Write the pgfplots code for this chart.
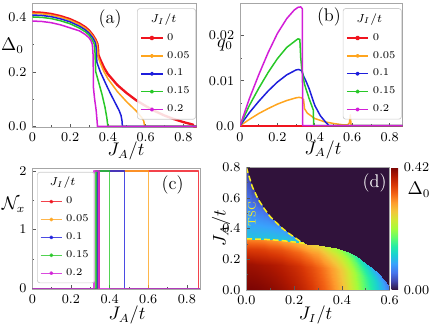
\documentclass[border=0pt]{standalone}
\usepackage{pgfplots}
\pgfplotsset{compat=1.18}
\definecolor{cR}{HTML}{F0141E}
\definecolor{cO}{HTML}{FFA51E}
\definecolor{cB}{HTML}{1E1EDC}
\definecolor{cG}{HTML}{28C828}
\definecolor{cM}{HTML}{D21ED7}
\definecolor{tz0}{RGB}{48,18,59}
\definecolor{tsc}{HTML}{F8F020}
\tikzset{lab/.style={font=\fontsize{10.5}{12}\selectfont}}
\pgfplotsset{
  colormap={turbo}{rgb255=(48,18,59) rgb255=(65,69,171) rgb255=(70,117,237)
    rgb255=(57,162,252) rgb255=(27,207,212) rgb255=(36,236,166) rgb255=(97,252,108)
    rgb255=(164,252,59) rgb255=(209,232,52) rgb255=(243,198,58) rgb255=(254,155,45)
    rgb255=(243,99,21) rgb255=(217,56,6) rgb255=(177,25,1) rgb255=(122,4,3)},
  base/.style={
    scale only axis, tick pos=left, tick align=inside,
    axis line style={black!35},
    major tick style={black!65, line width=0.4pt},
    minor tick style={black!65, line width=0.3pt},
    major tick length=2.2pt, minor tick length=1.3pt,
    tick label style={font=\fontsize{8}{9}\selectfont},
  },
  lines/.style={
    base, xmin=0, xmax=0.87, xtick={0,0.2,0.4,0.6,0.8}, minor x tick num=1,
    every axis plot/.append style={line width=0.9pt, line join=round},
    legend style={draw=black!20, rounded corners=1.5pt, fill=white,
      fill opacity=0.85, text opacity=1, font=\fontsize{6.2}{7}\selectfont,
      inner xsep=1.5pt, inner ysep=1pt, row sep=1.1pt, cells={anchor=west}},
    legend image code/.code={\draw[##1] (0pt,0pt) -- (13pt,0pt);
      \fill[##1] (6.5pt,0pt) circle (0.8pt);},
  },
}
\newcommand{\ltitle}{\addlegendimage{empty legend}
  \addlegendentry{\hspace{-10pt}\fontsize{7.2}{8}\selectfont$J_I/t$}}

\begin{document}
\begin{tikzpicture}
\useasboundingbox (0pt,0pt) rectangle (257.4pt,197.4pt);

% (a) gap parameter
\begin{axis}[lines, at={(19.38pt,195.42pt)}, anchor=north west,
    width=98.6pt, height=74.4pt, ymin=-0.003, ymax=0.451,
    ytick={0,0.2,0.4}, yticklabels={0.0,0.2,0.4}, minor y tick num=1,
    legend style={at={(0.996,0.96)}, anchor=north east}]
\ltitle
\addplot[cR, line width=1.4pt] coordinates {(0,0.418) (0.05,0.4165) (0.1,0.412) (0.15,0.404) (0.2,0.393) (0.25,0.377) (0.28,0.364) (0.3,0.352) (0.32,0.335) (0.335,0.318) (0.345,0.302) (0.348,0.285) (0.35,0.262) (0.36,0.245) (0.38,0.215) (0.4,0.192) (0.45,0.152) (0.5,0.122) (0.55,0.096) (0.6,0.075) (0.65,0.056) (0.7,0.04) (0.75,0.027) (0.8,0.016) (0.85,0.007) (0.855,0) (0.87,0)};
\addlegendentry{0}
\addplot[cO] coordinates {(0,0.414) (0.05,0.4125) (0.1,0.408) (0.15,0.4) (0.2,0.389) (0.25,0.373) (0.28,0.36) (0.3,0.348) (0.32,0.331) (0.335,0.314) (0.343,0.3) (0.346,0.28) (0.348,0.255) (0.36,0.232) (0.38,0.2) (0.4,0.175) (0.45,0.128) (0.5,0.09) (0.55,0.057) (0.58,0.032) (0.59,0.02) (0.595,0) (0.87,0)};
\addlegendentry{0.05}
\addplot[cB] coordinates {(0,0.408) (0.05,0.4065) (0.1,0.402) (0.15,0.394) (0.2,0.383) (0.25,0.367) (0.28,0.354) (0.3,0.342) (0.32,0.325) (0.333,0.308) (0.338,0.29) (0.34,0.26) (0.342,0.235) (0.36,0.2) (0.38,0.17) (0.4,0.14) (0.42,0.112) (0.44,0.085) (0.46,0.058) (0.47,0.04) (0.475,0.02) (0.477,0) (0.87,0)};
\addlegendentry{0.1}
\addplot[cG] coordinates {(0,0.401) (0.05,0.3995) (0.1,0.395) (0.15,0.387) (0.2,0.376) (0.25,0.36) (0.28,0.347) (0.3,0.335) (0.315,0.32) (0.328,0.302) (0.332,0.27) (0.334,0.23) (0.336,0.2) (0.35,0.165) (0.37,0.115) (0.385,0.07) (0.395,0.03) (0.4,0) (0.87,0)};
\addlegendentry{0.15}
\addplot[cM] coordinates {(0,0.386) (0.05,0.3845) (0.1,0.38) (0.15,0.372) (0.2,0.361) (0.25,0.35) (0.28,0.337) (0.3,0.325) (0.31,0.315) (0.318,0.3) (0.322,0.26) (0.323,0.2) (0.324,0.14) (0.33,0.1) (0.338,0.06) (0.343,0.02) (0.345,0) (0.87,0)};
\addlegendentry{0.2}
\node[font=\fontsize{11}{12}\selectfont] at (axis description cs:0.473,0.873) {(a)};
\end{axis}

% (b) pairing momentum
\begin{axis}[lines, at={(144pt,195.42pt)}, anchor=north west,
    width=97.6pt, height=74.0pt, ymin=-0.0002, ymax=0.0272,
    ytick={0,0.01,0.02}, yticklabels={0.0,0.01,0.02}, minor y tick num=1,
    scaled y ticks=false,
    legend style={at={(0.994,0.96)}, anchor=north east}]
\ltitle
\addplot[cR, line width=1.4pt] coordinates {(0,0) (0.87,0)};
\addlegendentry{0}
\addplot[cO] coordinates {(0,0) (0.05,0.0014) (0.1,0.0027) (0.15,0.0038) (0.2,0.0048) (0.25,0.0056) (0.3,0.0062) (0.315,0.0063) (0.33,0.0062) (0.34,0.0058) (0.345,0.0038) (0.36,0.0028) (0.4,0.0016) (0.45,0.0009) (0.5,0.0005) (0.55,0.0002) (0.575,0.0002) (0.585,0.0006) (0.59,0.0024) (0.593,0.0006) (0.595,0) (0.87,0)};
\addlegendentry{0.05}
\addplot[cB] coordinates {(0,0) (0.05,0.0029) (0.1,0.0054) (0.15,0.0077) (0.2,0.0097) (0.25,0.0113) (0.3,0.0124) (0.315,0.0125) (0.33,0.0122) (0.34,0.011) (0.35,0.0102) (0.37,0.0082) (0.4,0.0045) (0.43,0.0022) (0.46,0.0007) (0.47,0.0003) (0.475,0) (0.87,0)};
\addlegendentry{0.1}
\addplot[cG] coordinates {(0,0) (0.05,0.0045) (0.1,0.0083) (0.15,0.0118) (0.2,0.0149) (0.25,0.0174) (0.3,0.019) (0.31,0.0193) (0.32,0.0192) (0.325,0.015) (0.33,0.0128) (0.345,0.0092) (0.37,0.006) (0.392,0.0035) (0.394,0) (0.87,0)};
\addlegendentry{0.15}
\addplot[cM] coordinates {(0,0) (0.05,0.006) (0.1,0.0113) (0.15,0.0162) (0.2,0.0205) (0.25,0.0238) (0.29,0.0257) (0.31,0.0263) (0.325,0.0264) (0.333,0.026) (0.335,0) (0.87,0)};
\addlegendentry{0.2}
\node[font=\fontsize{11}{12}\selectfont] at (axis description cs:0.547,0.89) {(b)};
\end{axis}

% (c) number of nodes
\begin{axis}[lines, at={(19.38pt,96.42pt)}, anchor=north west,
    width=100.9pt, height=72.4pt, ymin=-0.01, ymax=2.046,
    ytick={0,1,2}, minor y tick num=1,
    every axis plot/.append style={line width=0.8pt, opacity=0.8},
    legend style={at={(0.028,0.97)}, anchor=north west}]
\ltitle
\addplot[cR] coordinates {(0,0) (0.345,0) (0.345,2) (0.86,2) (0.86,0) (0.87,0)};
\addlegendentry{0}
\addplot[cO] coordinates {(0,0) (0.34,0) (0.34,2) (0.6,2) (0.6,0) (0.87,0)};
\addlegendentry{0.05}
\addplot[cB] coordinates {(0,0) (0.335,0) (0.335,2) (0.477,2) (0.477,0) (0.87,0)};
\addlegendentry{0.1}
\addplot[cG] coordinates {(0,0) (0.33,0) (0.33,2) (0.4,2) (0.4,0) (0.87,0)};
\addlegendentry{0.15}
\addplot[cM] coordinates {(0,0) (0.32,0) (0.32,2) (0.345,2) (0.345,0) (0.87,0)};
\addlegendentry{0.2}
\node[font=\fontsize{11}{12}\selectfont] at (axis description cs:0.834,0.86) {(c)};
\end{axis}

% (d) phase diagram
\begin{axis}[base, at={(147.78pt,97.02pt)}, anchor=north west,
    width=86pt, height=73.6pt, view={0}{90}, axis on top,
    xmin=0, xmax=0.6, ymin=0, ymax=0.8, zmin=-1, zmax=1, ztick=\empty,
    xtick={0,0.2,0.4,0.6}, xticklabels={0.0,0.2,0.4,0.6},
    ytick={0,0.2,0.4,0.6,0.8}, yticklabels={0.0,0.2,0.4,0.6,0.8},
    minor x tick num=1, minor y tick num=1,
    axis background/.style={fill=tz0},
    colormap name=turbo, point meta min=0, point meta max=0.42,
    colorbar, colorbar style={at={(parent axis.north east)}, anchor=north west,
      xshift=-7.4pt, width=3.9pt, ytick={0,0.42}, yticklabels={0.00,0.42},
      yticklabel style={font=\fontsize{8}{9}\selectfont},
      axis line style={draw=none}, major tick length=0pt}]
\addplot3[surf, shader=interp, mesh/ordering=y varies, point meta=explicit]
  table[x=x, y=y, z expr=0, meta=c] {
x y c
0 0 0.420
0 0.1665 0.4005
0 0.2664 0.3573
0 0.333 0.310
0 0.336 0.112
0 0.4877 0.085
0 0.6423 0.052
0 0.797 0.025

0.025 0 0.4195
0.025 0.1663 0.3999
0.025 0.266 0.3563
0.025 0.3325 0.309
0.025 0.3355 0.112
0.025 0.4463 0.088
0.025 0.5602 0.058
0.025 0.674 0.030

0.05 0 0.418
0.05 0.166 0.3985
0.05 0.2656 0.3551
0.05 0.332 0.308
0.05 0.335 0.112
0.05 0.418 0.092
0.05 0.504 0.068
0.05 0.590 0.040

0.075 0 0.415
0.075 0.165 0.3955
0.075 0.264 0.3521
0.075 0.330 0.305
0.075 0.333 0.112
0.075 0.3967 0.096
0.075 0.4633 0.076
0.075 0.530 0.050

0.1 0 0.412
0.1 0.164 0.3927
0.1 0.2624 0.3497
0.1 0.328 0.303
0.1 0.331 0.112
0.1 0.378 0.100
0.1 0.428 0.084
0.1 0.478 0.060

0.125 0 0.408
0.125 0.1625 0.3889
0.125 0.26 0.3462
0.125 0.325 0.300
0.125 0.328 0.112
0.125 0.3633 0.101
0.125 0.4017 0.088
0.125 0.44 0.070

0.15 0 0.403
0.15 0.161 0.3841
0.15 0.2576 0.3418
0.15 0.322 0.296
0.15 0.325 0.112
0.15 0.349 0.104
0.15 0.376 0.094
0.15 0.403 0.080

0.175 0 0.397
0.175 0.159 0.3784
0.175 0.2544 0.3369
0.175 0.318 0.292
0.175 0.321 0.114
0.175 0.336 0.106
0.175 0.354 0.097
0.175 0.372 0.085

0.2 0 0.390
0.2 0.1565 0.3719
0.2 0.2504 0.3317
0.2 0.313 0.288
0.2 0.316 0.116
0.2 0.3237 0.110
0.2 0.3343 0.100
0.2 0.345 0.090

0.225 0 0.382
0.225 0.154 0.3639
0.225 0.2464 0.3237
0.225 0.308 0.280
0.225 0.311 0.118
0.225 0.3133 0.112
0.225 0.3157 0.106
0.225 0.318 0.100

0.25 0 0.372
0.25 0.151 0.354
0.25 0.2416 0.315
0.25 0.302 0.272
0.25 0.302 0.272
0.25 0.302 0.272
0.25 0.302 0.272
0.25 0.302 0.272

0.275 0 0.361
0.275 0.148 0.344
0.275 0.2368 0.306
0.275 0.296 0.265
0.275 0.296 0.265
0.275 0.296 0.265
0.275 0.296 0.265
0.275 0.296 0.265

0.3 0 0.348
0.3 0.145 0.332
0.3 0.232 0.297
0.3 0.290 0.258
0.3 0.290 0.258
0.3 0.290 0.258
0.3 0.290 0.258
0.3 0.290 0.258

0.325 0 0.334
0.325 0.1425 0.318
0.325 0.228 0.281
0.325 0.285 0.242
0.325 0.285 0.242
0.325 0.285 0.242
0.325 0.285 0.242
0.325 0.285 0.242

0.35 0 0.318
0.35 0.14 0.302
0.35 0.224 0.265
0.35 0.280 0.225
0.35 0.280 0.225
0.35 0.280 0.225
0.35 0.280 0.225
0.35 0.280 0.225

0.375 0 0.300
0.375 0.136 0.284
0.375 0.2176 0.250
0.375 0.272 0.212
0.375 0.272 0.212
0.375 0.272 0.212
0.375 0.272 0.212
0.375 0.272 0.212

0.4 0 0.278
0.4 0.131 0.264
0.4 0.2096 0.232
0.4 0.262 0.198
0.4 0.262 0.198
0.4 0.262 0.198
0.4 0.262 0.198
0.4 0.262 0.198

0.425 0 0.253
0.425 0.123 0.240
0.425 0.1968 0.211
0.425 0.246 0.180
0.425 0.246 0.180
0.425 0.246 0.180
0.425 0.246 0.180
0.425 0.246 0.180

0.45 0 0.226
0.45 0.1125 0.214
0.45 0.18 0.188
0.45 0.225 0.160
0.45 0.225 0.160
0.45 0.225 0.160
0.45 0.225 0.160
0.45 0.225 0.160

0.475 0 0.198
0.475 0.0995 0.188
0.475 0.1592 0.165
0.475 0.199 0.140
0.475 0.199 0.140
0.475 0.199 0.140
0.475 0.199 0.140
0.475 0.199 0.140

0.5 0 0.170
0.5 0.084 0.161
0.5 0.1344 0.141
0.5 0.168 0.120
0.5 0.168 0.120
0.5 0.168 0.120
0.5 0.168 0.120
0.5 0.168 0.120

0.525 0 0.145
0.525 0.07 0.137
0.525 0.112 0.120
0.525 0.140 0.102
0.525 0.140 0.102
0.525 0.140 0.102
0.525 0.140 0.102
0.525 0.140 0.102

0.55 0 0.120
0.55 0.054 0.114
0.55 0.0864 0.101
0.55 0.108 0.086
0.55 0.108 0.086
0.55 0.108 0.086
0.55 0.108 0.086
0.55 0.108 0.086

0.575 0 0.092
0.575 0.034 0.088
0.575 0.0544 0.081
0.575 0.068 0.072
0.575 0.068 0.072
0.575 0.068 0.072
0.575 0.068 0.072
0.575 0.068 0.072

0.6 0 0.060
0.6 0.0075 0.060
0.6 0.012 0.059
0.6 0.015 0.058
0.6 0.015 0.058
0.6 0.015 0.058
0.6 0.015 0.058
0.6 0.015 0.058
};
\addplot3[tsc, line width=0.9pt, dash pattern=on 3.5pt off 1.8pt] coordinates {(0,0.8,0) (0.025,0.674,0) (0.05,0.59,0) (0.075,0.53,0) (0.1,0.478,0) (0.125,0.44,0) (0.15,0.403,0) (0.175,0.372,0) (0.2,0.345,0) (0.225,0.318,0) (0.24,0.305,0)};
\addplot3[tsc, line width=0.9pt, dash pattern=on 3.5pt off 1.8pt] coordinates {(0,0.333,0) (0.05,0.332,0) (0.1,0.328,0) (0.15,0.322,0) (0.2,0.313,0) (0.24,0.305,0)};
\node[rotate=90, text=tsc, font=\fontsize{6.5}{7}\selectfont] at (axis description cs:0.04,0.62) {TSC};
\node[text=white, font=\fontsize{11}{12}\selectfont] at (axis description cs:0.896,0.87) {(d)};
\end{axis}

% axis labels
\node[lab] at (75.6pt,106.8pt) {$J_A/t$};
\node[lab] at (7.5pt,169.8pt) {$\Delta_0$};
\node[lab] at (193.8pt,107.7pt) {$J_A/t$};
\node[lab] at (135pt,170.4pt) {$q_0$};
\node[lab] at (76.2pt,8.4pt) {$J_A/t$};
\node[lab] at (8.1pt,74.4pt) {$\mathcal{N}_x$};
\node[lab] at (189.3pt,8.4pt) {$J_I/t$};
\node[lab, rotate=90] at (132.6pt,60.6pt) {$J_A/t$};
\node[lab, anchor=west] at (241pt,83.4pt) {$\Delta_0$};
\end{tikzpicture}
\end{document}
